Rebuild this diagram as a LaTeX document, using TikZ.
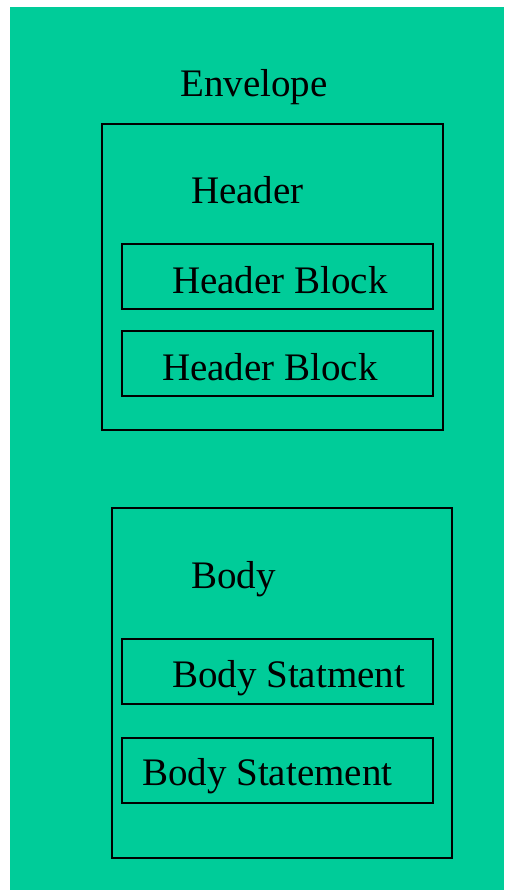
\documentclass[tikz,border=0pt]{standalone}
\usepackage{fontspec}
\setmainfont{Liberation Serif}
\definecolor{envgreen}{HTML}{00CC99}

\begin{document}
\begin{tikzpicture}[x=1pt,y=-1pt,
  box/.style={draw=black,line width=1.2pt,inner sep=0pt},
  label/.style={anchor=base west,inner sep=0pt,font=\fontsize{39}{44}\selectfont}]
\useasboundingbox (0,0) rectangle (504,890);
\fill[envgreen] (10,7) rectangle (504,890);
% envelope
\node[label] (envelope) at (180,97) {Envelope};
% header part
\node[box,minimum width=341pt,minimum height=306pt] (header) at (272.5,277) {};
\node[label] (headertxt) at (191,204) {Header};
\node[box,minimum width=311pt,minimum height=65pt] (hblockA) at (277.5,276.5) {};
\node[label] (hblockAtxt) at (172,293) {Header Block};
\node[box,minimum width=311pt,minimum height=65pt] (hblockB) at (277.5,363.5) {};
\node[label] (hblockBtxt) at (162,380) {Header Block};
% body part
\node[box,minimum width=340pt,minimum height=350pt] (body) at (282,683) {};
\node[label] (bodytxt) at (191,588) {Body};
\node[box,minimum width=311pt,minimum height=65pt] (bstmtA) at (277.5,671.5) {};
\node[label] (bstmtAtxt) at (172,687) {Body Statment};
\node[box,minimum width=311pt,minimum height=65pt] (bstmtB) at (277.5,770.5) {};
\node[label] (bstmtBtxt) at (142,785) {Body Statement};
\end{tikzpicture}
\end{document}
